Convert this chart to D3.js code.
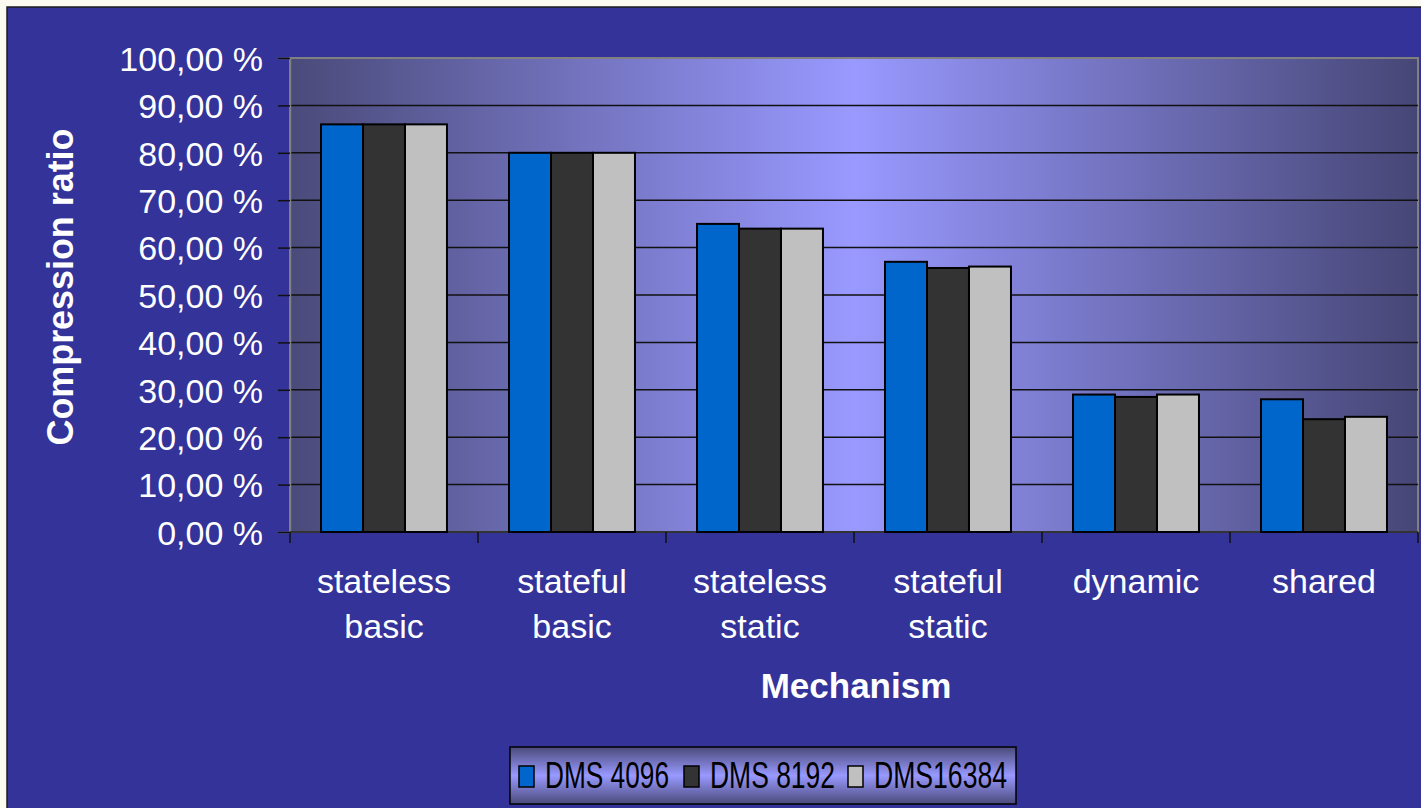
<!DOCTYPE html>
<html>
<head>
<meta charset="utf-8">
<script src="https://cdn.jsdelivr.net/npm/d3@7"></script>
<style>
    html, body { margin: 0; padding: 0; background: #fbfbf1; }
    svg { display: block; font-family: "Liberation Sans", Arial, sans-serif; }
</style>
</head>
<body>
<div id="main"></div>
<script>
const ctx = {
    WIDTH: 1421,
    HEIGHT: 808,
};

// chart data
const categories = ["stateless basic", "stateful basic", "stateless static", "stateful static", "dynamic", "shared"];
const seriesNames = ["DMS 4096", "DMS 8192", "DMS16384"];
const dms4096 = [86.0, 80.0, 65.0, 57.0, 29.0, 28.0];
const dms8192 = [86.0, 80.0, 64.0, 55.7, 28.5, 23.8];
const dms16384 = [86.0, 80.0, 64.0, 56.0, 29.0, 24.3];
const yTicks = [0, 10, 20, 30, 40, 50, 60, 70, 80, 90, 100];
const seriesColors = ["#0066cc", "#333333", "#c0c0c0"];

function createChart() {
    const svg = d3.select("#main").append("svg")
        .attr("width", ctx.WIDTH)
        .attr("height", ctx.HEIGHT);

    const defs = svg.append("defs");
    const plotGrad = defs.append("linearGradient")
        .attr("id", "plotGrad")
        .attr("x1", "0%").attr("x2", "100%").attr("y1", "0%").attr("y2", "0%");
    plotGrad.append("stop").attr("offset", "0%").attr("stop-color", "#4a4a7a");
    plotGrad.append("stop").attr("offset", "50%").attr("stop-color", "#9999ff");
    plotGrad.append("stop").attr("offset", "100%").attr("stop-color", "#464676");

    const legendGrad = defs.append("linearGradient")
        .attr("id", "legendGrad")
        .attr("x1", "0%").attr("x2", "0%").attr("y1", "0%").attr("y2", "100%");
    legendGrad.append("stop").attr("offset", "0%").attr("stop-color", "#4a4a7a");
    legendGrad.append("stop").attr("offset", "50%").attr("stop-color", "#9999ff");
    legendGrad.append("stop").attr("offset", "100%").attr("stop-color", "#4a4a7a");

    // chart background
    svg.append("rect")
        .attr("x", 7).attr("y", 7)
        .attr("width", ctx.WIDTH).attr("height", ctx.HEIGHT)
        .style("fill", "#333399")
        .style("stroke", "#1e1e1e")
        .style("stroke-width", 1.5);

    const plot = { left: 290, right: 1418, top: 58, bottom: 532 };

    const y = d3.scaleLinear()
        .domain([0, 100])
        .range([plot.bottom, plot.top]);

    const x0 = d3.scaleBand()
        .domain(categories)
        .range([plot.left, plot.right])
        .paddingInner(0.33)
        .paddingOuter(0.165);

    const x1 = d3.scaleBand()
        .domain(seriesNames)
        .range([0, x0.bandwidth()]);

    // plot area
    svg.append("rect")
        .attr("x", plot.left).attr("y", plot.top)
        .attr("width", plot.right - plot.left)
        .attr("height", plot.bottom - plot.top)
        .style("fill", "url(#plotGrad)")
        .style("stroke", "#808080")
        .style("stroke-width", 2);

    // gridlines
    svg.append("g")
        .selectAll("line")
        .data(yTicks.filter(t => t > 0 && t < 100))
        .enter().append("line")
        .attr("x1", plot.left).attr("x2", plot.right)
        .attr("y1", d => y(d)).attr("y2", d => y(d))
        .style("stroke", "#111")
        .style("stroke-width", 1.5);

    // y axis
    const fmt = d => d3.format(".2f")(d).replace(".", ",") + " %";
    const yAxis = svg.append("g")
        .attr("transform", `translate(${plot.left},0)`)
        .call(d3.axisLeft(y).tickValues(yTicks).tickFormat(fmt).tickSize(12).tickPadding(15));
    yAxis.select(".domain").style("stroke", "#808080").style("stroke-width", 1.5);
    yAxis.selectAll(".tick line").style("stroke", "#111").style("stroke-width", 1.5);
    yAxis.selectAll(".tick text")
        .style("fill", "#fff")
        .style("font-size", "34px")
        .attr("dy", "0.36em");

    // x axis
    const boundaries = d3.range(categories.length + 1).map(i => plot.left + i * x0.step());
    svg.append("line")
        .attr("x1", plot.left).attr("x2", plot.right)
        .attr("y1", plot.bottom).attr("y2", plot.bottom)
        .style("stroke", "#333")
        .style("stroke-width", 2);
    svg.append("g")
        .selectAll("line")
        .data(boundaries)
        .enter().append("line")
        .attr("x1", d => d).attr("x2", d => d)
        .attr("y1", plot.bottom).attr("y2", plot.bottom + 11)
        .style("stroke", "#111")
        .style("stroke-width", 1.5);

    const catLabels = svg.append("g")
        .selectAll("text")
        .data(categories)
        .enter().append("text")
        .attr("text-anchor", "middle")
        .style("fill", "#fff")
        .style("font-size", "34px");
    catLabels.selectAll("tspan")
        .data(d => d.split(" ").map(w => ({ word: w, cat: d })))
        .enter().append("tspan")
        .attr("x", d => x0(d.cat) + x0.bandwidth() / 2)
        .attr("y", (d, i) => plot.bottom + 61 + i * 45)
        .text(d => d.word);

    // bars
    const values = [dms4096, dms8192, dms16384];
    const groups = svg.append("g")
        .selectAll("g")
        .data(categories)
        .enter().append("g")
        .attr("transform", d => `translate(${x0(d)},0)`);
    groups.selectAll("rect")
        .data((d, i) => seriesNames.map((s, j) => ({ series: s, value: values[j][i], color: seriesColors[j] })))
        .enter().append("rect")
        .attr("x", d => x1(d.series))
        .attr("y", d => y(d.value))
        .attr("width", x1.bandwidth())
        .attr("height", d => y(0) - y(d.value))
        .style("fill", d => d.color)
        .style("stroke", "#000")
        .style("stroke-width", 2);

    // axis titles
    svg.append("text")
        .attr("transform", "translate(73,287) rotate(-90)")
        .attr("text-anchor", "middle")
        .attr("textLength", 317)
        .attr("lengthAdjust", "spacingAndGlyphs")
        .style("fill", "#fff")
        .style("font-size", "36px")
        .style("font-weight", "bold")
        .text("Compression ratio");

    svg.append("text")
        .attr("x", 856).attr("y", 698)
        .attr("text-anchor", "middle")
        .style("fill", "#fff")
        .style("font-size", "35px")
        .style("font-weight", "bold")
        .text("Mechanism");

    // legend
    const legend = svg.append("g");
    legend.append("rect")
        .attr("x", 510).attr("y", 747)
        .attr("width", 506).attr("height", 57)
        .style("fill", "url(#legendGrad)")
        .style("stroke", "#000")
        .style("stroke-width", 1.5);

    const legendX = [519, 684, 848];
    const legendW = [124, 125, 133];
    const items = legend.selectAll(".item")
        .data(seriesNames)
        .enter().append("g")
        .attr("class", "item");
    items.append("rect")
        .attr("x", (d, i) => legendX[i]).attr("y", 766)
        .attr("width", 15).attr("height", 21)
        .style("fill", (d, i) => seriesColors[i])
        .style("stroke", "#000")
        .style("stroke-width", 1.5);
    items.append("text")
        .attr("x", (d, i) => legendX[i] + 26).attr("y", 788)
        .attr("textLength", (d, i) => legendW[i])
        .attr("lengthAdjust", "spacingAndGlyphs")
        .style("fill", "#000")
        .style("font-size", "37px")
        .text(d => d);
}

createChart();
</script>
</body>
</html>
